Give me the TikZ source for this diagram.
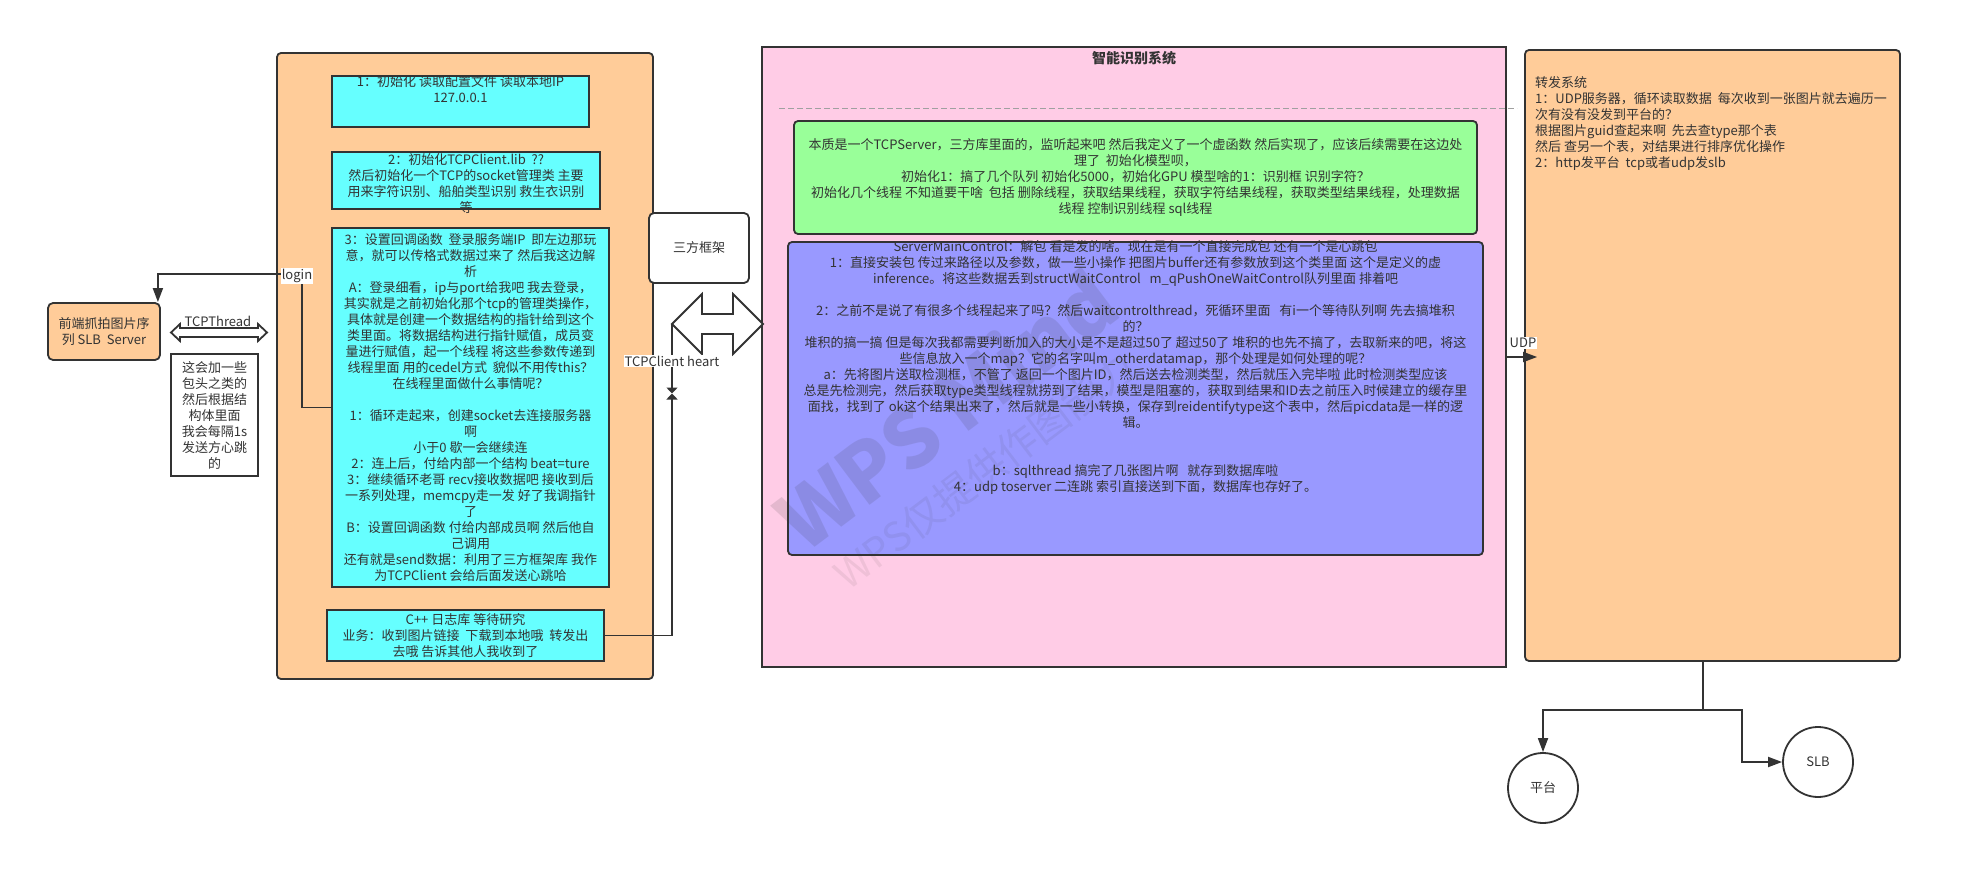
\documentclass[tikz,border=0pt]{standalone}
\usepackage{fontspec}
\setmainfont{Noto Sans CJK SC}
\usetikzlibrary{arrows.meta}
\definecolor{ink}{HTML}{333333}
\definecolor{peach}{HTML}{FFCC99}
\definecolor{aqua}{HTML}{66FFFF}
\definecolor{blush}{HTML}{FFCCE6}
\definecolor{mint}{HTML}{99FF99}
\definecolor{lilac}{HTML}{9999FF}
\definecolor{rule}{HTML}{A0A0A0}
\newcommand{\thirteen}{\fontsize{13}{16}\selectfont}
\tikzset{
 every node/.append style={font=\thirteen,text=ink,align=center},
 box/.style={draw=ink,line width=1.8pt,inner sep=0pt},
 panel/.style={box,fill=peach,rounded corners=4pt},
 stage/.style={box,fill=aqua},
 core/.style={box,fill=mint,rounded corners=4pt},
 worker/.style={box,fill=lilac,rounded corners=4pt},
 plain/.style={box,fill=white},
 hub/.style={box,fill=white,circle,minimum size=70pt},
 words/.style={inner sep=0pt},
 tag/.style={fill=white,inner xsep=1pt,inner ysep=1pt},
 flow/.style={-{Triangle[length=14pt,width=10pt]},draw=ink,line width=1.8pt},
 pinch/.style={-{Triangle[length=6pt,width=11pt]},draw=ink,line width=1.8pt},
 hollow/.style={draw=ink,line width=1.8pt,fill=white,line join=miter},
 divider/.style={draw=rule,line width=1.5pt,dash pattern=on 6pt off 3pt},
 stamp/.style={inner sep=0pt,text=ink,anchor=base west,rotate=37},
}
\newcommand{\twoway}[6]{
 \draw[hollow] (#1,#3) -- ++(#6,-#4) -- ++(0,#4-#5) -- (#2-#6,#3-#5) -- ++(0,#5-#4) -- (#2,#3) -- ++(-#6,#4) -- ++(0,#5-#4) -- (#1+#6,#3+#5) -- ++(0,#4-#5) -- cycle;
}

\begin{document}
\begin{tikzpicture}[x=1pt,y=-1pt]

\useasboundingbox (0,0) rectangle (1962,885);
\node[panel,minimum width=376pt,minimum height=626pt] (client) at (465,366) {};
\node[stage,minimum width=257pt,minimum height=51pt] (init) at (460.5,101.5) {};
\node[words,anchor=north] (init-text) at (init.north) {1：初始化 读取配置文件 读取本地IP\\127.0.0.1};
\node[stage,minimum width=268pt,minimum height=57pt] (lib) at (466,180.5) {};
\node[words,anchor=north] (lib-text) at (466,153.5) {2：初始化TCPClient.lib\ \ ??\\然后初始化一个TCP的socket管理类 主要\\用来字符识别、船舶类型识别 救生衣识别\\等};
\node[stage,minimum width=277pt,minimum height=359pt] (cb) at (470.5,407.5) {3：设置回调函数\ \ 登录服务端IP\ \ 即左边那玩\\意，就可以传格式数据过来了 然后我这边解\\析\\A：登录细看，ip与port给我吧 我去登录，\\其实就是之前初始化那个tcp的管理类操作，\\具体就是创建一个数据结构的指针给到这个\\类里面。将数据结构进行指针赋值，成员变\\量进行赋值，起一个线程 将这些参数传递到\\线程里面 用的cedel方式\ \ 貌似不用传this？\\在线程里面做什么事情呢？\\[16pt]1：循环走起来，创建socket去连接服务器\\啊\\小于0 歇一会继续连\\2：连上后，付给内部一个结构 beat=ture\\3：继续循环老哥 recv接收数据吧 接收到后\\一系列处理，memcpy走一发 好了我调指针\\了\\B：设置回调函数 付给内部成员啊 然后他自\\己调用\\还有就是send数据：利用了三方框架库 我作\\为TCPClient 会给后面发送心跳哈};
\node[stage,minimum width=277pt,minimum height=51pt] (logbox) at (465.5,635.5) {C++ 日志库 等待研究\\业务：收到图片链接\ \ 下载到本地哦\ \ 转发出\\去哦 告诉其他人我收到了};
\node[panel,rounded corners=5pt,minimum width=112pt,minimum height=57pt] (front) at (104,331.5) {前端抓拍图片序\\列 SLB\ \ Server};
\node[plain,minimum width=87pt,minimum height=122pt] (note) at (214.5,415) {这会加一些\\包头之类的\\然后根据结\\构体里面\\我会每隔1s\\发送方心跳\\的};
\node[plain,rounded corners=5pt,minimum width=100pt,minimum height=70pt] (sdk) at (699,248) {三方框架};
\node[box,fill=blush,minimum width=744pt,minimum height=620pt] (smart) at (1134,357) {};
\node[font=\fontsize{14}{17}\selectfont\bfseries] (title) at (1134,58) {智能识别系统};
\draw[divider] (779,108.5) -- (1517,108.5);
\node[core,minimum width=683pt,minimum height=113pt] (server) at (1135.5,177.5) {本质是一个TCPServer，三方库里面的，监听起来吧 然后我定义了一个虚函数 然后实现了，应该后续需要在这边处\\理了\ \ 初始化模型呗，\\初始化1：搞了几个队列 初始化5000，初始化GPU 模型啥的1：识别框 识别字符？\\初始化几个线程 不知道要干啥\ \ 包括 删除线程，获取结果线程，获取字符结果线程，获取类型结果线程，处理数据\\线程 控制识别线程 sql线程};
\node[worker,minimum width=695pt,minimum height=313pt] (ctrl) at (1135.5,398.5) {};
\node[words,anchor=north] (ctrl-text) at (1135.5,240) {ServerMainControl：解包 看是发的啥。现在是有一个直接完成包 还有一个是心跳包\\1：直接安装包 传过来路径以及参数，做一些小操作 把图片buffer还有参数放到这个类里面 这个是定义的虚\\inference。将这些数据丢到structWaitControl\ \ \ m\_qPushOneWaitControl队列里面 排着吧\\[16pt]2：之前不是说了有很多个线程起来了吗？然后waitcontrolthread，死循环里面\ \ \ 有i一个等待队列啊 先去搞堆积\\的？\\堆积的搞一搞 但是每次我都需要判断加入的大小是不是超过50了 超过50了 堆积的也先不搞了，去取新来的吧，将这\\些信息放入一个map？它的名字叫m\_otherdatamap，那个处理是如何处理的呢？\\a：先将图片送取检测框，不管了 返回一个图片ID，然后送去检测类型，然后就压入完毕啦 此时检测类型应该\\总是先检测完，然后获取type类型线程就捞到了结果，模型是阻塞的，获取到结果和ID去之前压入时候建立的缓存里\\面找，找到了 ok这个结果出来了，然后就是一些小转换，保存到reidentifytype这个表中，然后picdata是一样的逻\\辑。\\[32pt]b：sqlthread 搞完了几张图片啊\ \ \ 就存到数据库啦\\4：udp toserver 二连跳 索引直接送到下面，数据库也存好了。};
\node[panel,minimum width=375pt,minimum height=611pt] (fwd) at (1712.5,355.5) {};
\node[words,anchor=north west,align=left] (fwd-text) at (1535,76) {转发系统\\1：UDP服务器，循环读取数据\ \ 每次收到一张图片就去遍历一\\次有没有没发到平台的？\\根据图片guid查起来啊\ \ 先去查type那个表\\然后 查另一个表，对结果进行排序优化操作\\2：http发平台\ \ tcp或者udp发slb};
\node[hub] (pt) at (1543,788) {平台};
\node[hub] (slb) at (1818,762) {SLB};
\twoway{171}{267}{332.5}{8.5}{4.5}{9}
\node[words] (thread) at (218,321) {TCPThread};
\twoway{672}{763}{324}{30}{10}{30}
\coordinate (loginbend) at (302,274);
\draw[flow] (cb.west) -| (loginbend) -| ([xshift=-3pt]front.north east);
\node[tag] (login) at (297,276) {login};
\coordinate (sdkarrow) at (672,324);
\coordinate (hglass) at (672,393.5);
\draw[pinch] (logbox.east) -| (hglass);
\draw[pinch] (sdkarrow) -- (hglass);
\node[tag] (heart) at (672,361) {TCPClient heart};
\draw[flow,shorten >=-13pt] (smart.east) -- (smart.east -| fwd.west);
\node[tag] (udp) at (1523,343) {UDP};
\coordinate (fork) at (1703,710);
\coordinate (forkr) at (1742,710);
\draw[flow] (fwd.south -| fork) -- (fork) -| (pt.north);
\draw[flow] (fork) -- (forkr) |- (slb.west);
\node[stamp,opacity=.13,font=\fontsize{80}{88}\selectfont\bfseries] (wm1) at (805,555) {WPS Mind};
\node[stamp,opacity=.08,font=\fontsize{40}{44}\selectfont] (wm2) at (848,592) {WPS仅提供作图能力};

\end{tikzpicture}
\end{document}
